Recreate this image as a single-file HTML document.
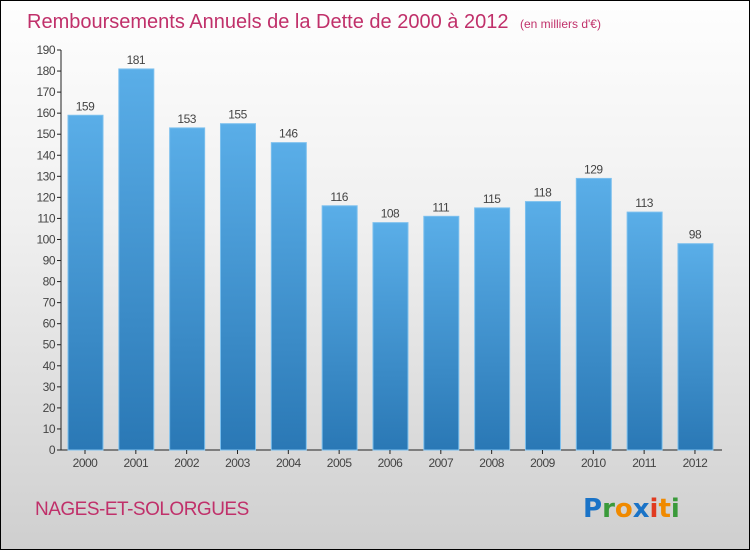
<!DOCTYPE html>
<html><head><meta charset="utf-8"><style>
body{margin:0;}
#wrap{width:748px;height:548px;border:1px solid #000;background:linear-gradient(#fefefe,#f0f0f0 40%,#cfcfcf);position:relative;overflow:hidden;font-family:"Liberation Sans",sans-serif;}
</style></head><body>
<div id="wrap">
<svg id="chart" width="748" height="548">
<defs><linearGradient id="bg" x1="0" y1="0" x2="0" y2="1"><stop offset="0" stop-color="#5aaee8"/><stop offset="1" stop-color="#2a78b5"/></linearGradient></defs>
<text x="26" y="27" font-size="20" fill="#c0306a">Remboursements Annuels de la Dette de 2000 à 2012 <tspan font-size="12" dx="6">(en milliers d'€)</tspan></text>
<text x="34" y="514" font-size="19" fill="#c0306a" letter-spacing="-0.5">NAGES-ET-SOLORGUES</text>
<g font-size="26" font-weight="bold" font-family="DejaVu Sans, sans-serif">
<text x="582" y="516"><tspan fill="#1a73c7">P</tspan><tspan fill="#3a9a3a">r</tspan><tspan fill="#f08a00">o</tspan><tspan fill="#1a73c7">x</tspan><tspan fill="#e03a20">i</tspan><tspan fill="#f08a00">t</tspan><tspan fill="#3a9a3a">i</tspan></text></g>
<g id="plot"></g>
</svg>
</div>
<script>
const years=["2000","2001","2002","2003","2004","2005","2006","2007","2008","2009","2010","2011","2012"];
const values=[159,181,153,155,146,116,108,111,115,118,129,113,98];
const ticks=[0,10,20,30,40,50,60,70,80,90,100,110,120,130,140,150,160,170,180,190];
const NS="http://www.w3.org/2000/svg";
const g=document.getElementById('plot');
const y=v=>449-v*400/190;
const x=i=>84+i*50.83;
function mk(t,a,txt){const e=document.createElementNS(NS,t);for(const k in a)e.setAttribute(k,a[k]);if(txt!==undefined)e.textContent=txt;g.appendChild(e);return e;}
let ax=mk('line',{x1:60,y1:y(190),x2:60,y2:449,stroke:'#222'});


let bx=mk('line',{x1:60,y1:449,x2:721,y2:449,stroke:'#222'});


ticks.forEach(t=>{
 mk('line',{x1:56,y1:y(t),x2:60,y2:y(t),stroke:'#222'});
 let l=mk('text',{x:54,y:y(t)+4,'font-size':12,fill:'#444','text-anchor':'end','letter-spacing':'-0.5'},t);
 
 
});
years.forEach((yr,i)=>{
 const v=values[i];
 let b=mk('rect',{x:x(i)-17,y:y(v),width:35,height:449-y(v),fill:'url(#bg)',stroke:'#7cc0ee','stroke-width':1});
 
 
 let vl=mk('text',{x:x(i),y:y(v)-5,'font-size':12,fill:'#444','text-anchor':'middle','letter-spacing':'-0.5'},v);
 
 
 mk('line',{x1:x(i),y1:449,x2:x(i),y2:453,stroke:'#222'});
 let xl=mk('text',{x:x(i),y:466,'font-size':12,fill:'#444','text-anchor':'middle','letter-spacing':'-0.5'},yr);
 
 
});
</script>
</body></html>
